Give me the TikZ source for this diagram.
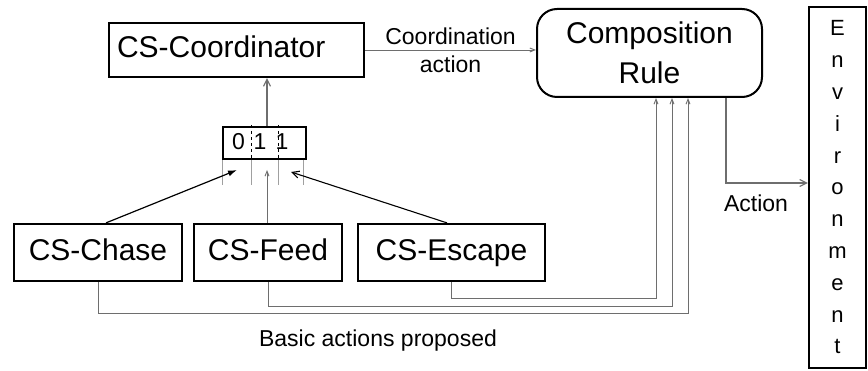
\documentclass[tikz,border=0pt]{standalone}
\usepackage{fontspec}
\setmainfont{Liberation Sans}
\usetikzlibrary{arrows.meta,positioning,calc}
\definecolor{LinkGray}{HTML}{6E6E6E}
\definecolor{TickGray}{HTML}{A0A0A0}
\newcommand{\boxfont}{\fontsize{30}{40}\selectfont}
\newcommand{\notefont}{\fontsize{23}{28}\selectfont}

\begin{document}
\begin{tikzpicture}[
    x=1pt, y=-1pt,
    block/.style={
      draw=black,
      fill=white,
      line width=2.2pt,
      inner sep=0pt,
      text height=22pt,
      text depth=6pt,
      font=\boxfont
    },
    rulebox/.style={
      draw=black,
      fill=white,
      rounded corners=20pt,
      line width=2pt,
      inner sep=0pt,
      align=center,
      font=\boxfont
    },
    flow/.style={
      -{Latex[length=9pt,width=6pt]},
      draw=black,
      line width=1.2pt
    },
    barbflow/.style={
      -{Straight Barb[length=7pt,width=7pt]},
      draw=LinkGray,
      line width=1.1pt
    },
    feedback/.style={
      -{Straight Barb[length=5pt,width=4pt]},
      draw=LinkGray,
      line width=0.9pt
    },
    note/.style={
      font=\notefont,
      inner sep=0pt,
      align=center
    }
  ]
    \useasboundingbox (0,0) rectangle (868,371);

    % upper row
    \node[block, minimum height=54pt, text width=239pt, inner xsep=8pt, align=left] (coord) at (236.5,50) {CS-Coordinator};
    \node[rulebox, minimum width=225pt, minimum height=88pt] (comp) at (649.5,53) {Composition\\Rule};
    \node[draw=black, fill=white, line width=2.2pt, inner sep=0pt, minimum width=57pt, minimum height=361pt, text width=20pt, align=center, font=\fontsize{22}{31.8}\selectfont] (env) at (837.5,187.5) {E\\n\\v\\i\\r\\o\\n\\m\\e\\n\\t};

    % bit vector
    \node[block, minimum width=83pt, minimum height=32pt] (bits) at (264.5,143) {};
    \draw[dashed, line width=0.8pt] (251,125) -- (251,159);
    \draw[dashed, line width=0.8pt] (278,125) -- (278,159);
    \node[note] (bit1) at (238.5,142) {0};
    \node[note] (bit2) at (260,142) {1};
    \node[note] (bit3) at (282,142) {1};
    \foreach \x in {222,251,278,303}
      \draw[TickGray, line width=0.8pt] (\x,160) -- (\x,185);

    % lower row
    \node[block, minimum width=168pt, minimum height=57pt] (chase) at (98,252.5) {CS-Chase};
    \node[block, minimum width=148pt, minimum height=57pt] (feed) at (268,252.5) {CS-Feed};
    \node[block, minimum width=187pt, minimum height=57pt] (escape) at (451.5,252.5) {CS-Escape};

    \coordinate (inchase) at (237,170);
    \coordinate (infeed) at (267,170);
    \coordinate (inescape) at (291,172);

    \draw[flow] ([xshift=8pt]chase.north) -- (inchase);
    \draw[feedback] (feed.north -| infeed) -- (infeed);
    \draw[barbflow, draw=black] ([xshift=-4.5pt]escape.north) -- (inescape);
    \draw[barbflow] ([xshift=2.5pt]bits.north) -- ([xshift=2.5pt]bits.north |- coord.south);

    \draw[feedback] (coord.east) -- (comp.west |- coord.east)
      node[note, midway] (coordlabel) {Coordination\\action};

    % proposed basic actions back to the rule
    \draw[feedback] (escape.south) -- ++(0,16) -| ([xshift=6.5pt]comp.south);
    \draw[feedback] (feed.south) -- ++(0,24) -| ([xshift=22.5pt]comp.south);
    \draw[feedback] (chase.south) -- ++(0,31) -| ([xshift=38.5pt]comp.south);
    \node[note] (proposed) at (378,341) {Basic actions proposed};

    % output action
    \draw[barbflow] ([xshift=76.5pt]comp.south) |- ([yshift=4.5pt]env.west);
    \node[note] (actionlabel) at (756,203) {Action};
  \end{tikzpicture}
\end{document}
